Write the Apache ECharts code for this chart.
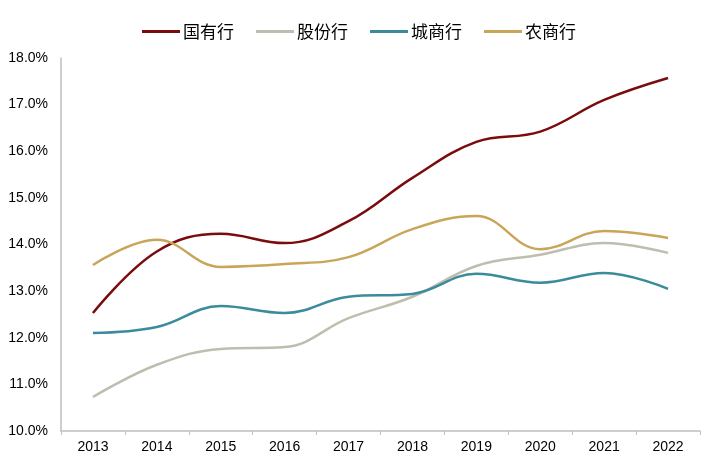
<!DOCTYPE html>
<html><head><meta charset="utf-8">
<script src="https://cdn.jsdelivr.net/npm/echarts@6/dist/echarts.min.js"></script>
<style>html,body{margin:0;padding:0;background:#fff}#c{width:722px;height:470px}</style>
</head><body><div id="c"></div>
<script>
const categories = ['2013','2014','2015','2016','2017','2018','2019','2020','2021','2022'];
const guoyou = [12.53, 13.85, 14.23, 14.03, 14.5, 15.43, 16.2, 16.42, 17.1, 17.57];
const gufen  = [10.73, 11.42, 11.76, 11.8, 12.42, 12.88, 13.54, 13.78, 14.03, 13.82];
const chengshang = [12.1, 12.23, 12.68, 12.53, 12.88, 12.94, 13.37, 13.18, 13.39, 13.05];
const nongshang = [13.56, 14.1, 13.52, 13.58, 13.73, 14.33, 14.61, 13.9, 14.29, 14.14];
const names = ['国有行','股份行','城商行','农商行'];
const colors = ['#7B0C0C','#BFBDAE','#3A8C9C','#C9A55A'];
const data = [guoyou, gufen, chengshang, nongshang];

const chart = echarts.init(document.getElementById('c'));
chart.setOption({
  animation: false,
  color: colors,
  legend: {
    top: 18, left: 137, itemWidth: 38, itemHeight: 3, itemGap: 22,
    icon: 'rect',
    textStyle: {fontSize: 17, color: '#000', fontFamily: 'Noto Sans CJK SC', padding: [0,0,0,-2]},
    data: names
  },
  grid: {left: 61, right: 22, top: 58, bottom: 39, containLabel: false},
  xAxis: {
    type: 'category', data: categories, boundaryGap: true,
    axisLine: {lineStyle: {color: '#BFBFBF', width: 1.5}},
    axisTick: {show: true, length: 4, lineStyle: {color: '#BFBFBF'}},
    axisLabel: {color: '#000', fontSize: 14, fontFamily: 'Liberation Sans', margin: 9}
  },
  yAxis: {
    type: 'value', min: 10, max: 18, interval: 1,
    axisLine: {show: true, lineStyle: {color: '#BFBFBF', width: 1.5}},
    axisTick: {show: false},
    splitLine: {show: false},
    axisLabel: {color: '#000', fontSize: 14, fontFamily: 'Liberation Sans', margin: 13,
      formatter: v => v.toFixed(1) + '%'}
  },
  series: names.map((n, i) => ({
    name: n, type: 'line', data: data[i], smooth: 0.4, symbol: 'none',
    lineStyle: {width: 2.5, color: colors[i]}
  }))
});
</script></body></html>
